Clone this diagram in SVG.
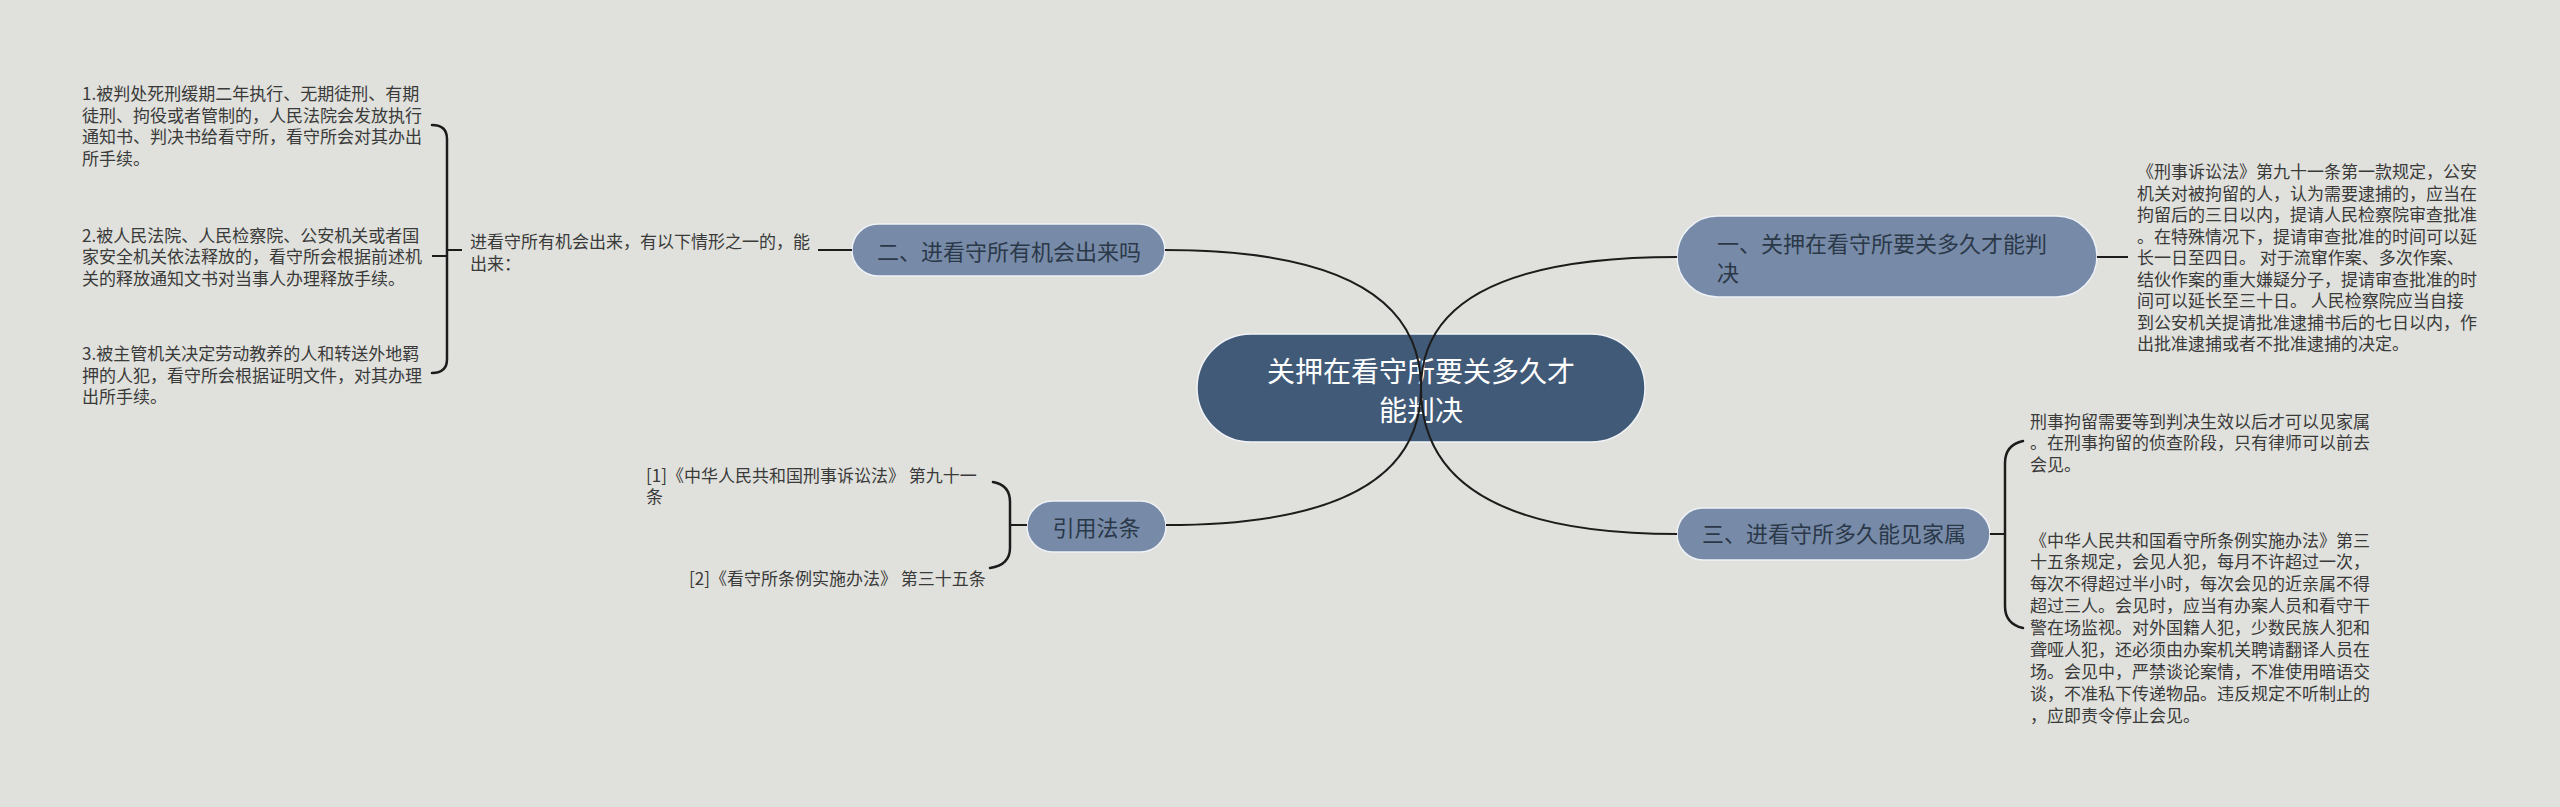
<svg xmlns="http://www.w3.org/2000/svg" width="2560" height="807" viewBox="0 0 2560 807">
<style>
.bg{fill:#e0e1dc}
.root{fill:#415a78;stroke:#f0f3f7;stroke-width:1.5}
.br{fill:#778ba8;stroke:#eef2f7;stroke-width:1.5}
.rt{font-family:"Noto Sans CJK SC","Liberation Sans",sans-serif;font-size:28px;fill:#ffffff}
.bt{font-family:"Noto Sans CJK SC","Liberation Sans",sans-serif;font-size:22px;fill:#2b3848}
.tx{font-family:"Noto Sans CJK SC","Liberation Sans",sans-serif;font-size:17px;fill:#3a3a3a}
.ln{fill:none;stroke:#1c1c1c;stroke-width:2}
.bk{fill:none;stroke:#1c1c1c;stroke-width:2.5;stroke-linecap:round}
</style>
<rect class="bg" x="0" y="0" width="2560" height="807"/>

<g id="node-root">
<rect class="root" x="1197" y="334" width="448" height="108" rx="54"/>
<text class="rt" text-anchor="middle"><tspan x="1421" y="382">关押在看守所要关多久才</tspan><tspan x="1421" y="420.5">能判决</tspan></text>
</g>

<g id="node-b2">
<rect class="br" x="852" y="224" width="313" height="52" rx="26"/>
<text class="bt" x="877" y="260">二、进看守所有机会出来吗</text>
</g>

<g id="node-b2-desc">
<text class="tx"><tspan x="470" y="248.2">进看守所有机会出来，有以下情形之一的，能</tspan><tspan x="470" y="269.9">出来：</tspan></text>
</g>

<g id="node-b2-c1">
<text class="tx"><tspan x="82" y="99.8">1.被判处死刑缓期二年执行、无期徒刑、有期</tspan><tspan x="82" y="121.5">徒刑、拘役或者管制的，人民法院会发放执行</tspan><tspan x="82" y="143.2">通知书、判决书给看守所，看守所会对其办出</tspan><tspan x="82" y="164.9">所手续。</tspan></text>
</g>
<g id="node-b2-c2">
<text class="tx"><tspan x="82" y="241.5">2.被人民法院、人民检察院、公安机关或者国</tspan><tspan x="82" y="263.2">家安全机关依法释放的，看守所会根据前述机</tspan><tspan x="82" y="284.9">关的释放通知文书对当事人办理释放手续。</tspan></text>
</g>
<g id="node-b2-c3">
<text class="tx"><tspan x="82" y="359.8">3.被主管机关决定劳动教养的人和转送外地羁</tspan><tspan x="82" y="381.5">押的人犯，看守所会根据证明文件，对其办理</tspan><tspan x="82" y="403.2">出所手续。</tspan></text>
</g>

<g id="node-ref">
<rect class="br" x="1027" y="501" width="139" height="51" rx="25.5"/>
<text class="bt" x="1096.5" y="535.5" text-anchor="middle">引用法条</text>
</g>
<g id="node-ref-1">
<text class="tx"><tspan x="646" y="481.5">[1]《中华人民共和国刑事诉讼法》 第九十一</tspan><tspan x="646" y="502.5">条</tspan></text>
</g>
<g id="node-ref-2">
<text class="tx" x="689" y="584.8">[2]《看守所条例实施办法》 第三十五条</text>
</g>

<g id="node-b1">
<rect class="br" x="1677" y="216" width="420" height="81" rx="40.5"/>
<text class="bt"><tspan x="1717" y="251.7">一、关押在看守所要关多久才能判</tspan><tspan x="1717" y="281">决</tspan></text>
</g>
<g id="node-b1-c1">
<text class="tx"><tspan x="2137" y="178.2">《刑事诉讼法》第九十一条第一款规定，公安</tspan><tspan x="2137" y="199.7">机关对被拘留的人，认为需要逮捕的，应当在</tspan><tspan x="2137" y="221.2">拘留后的三日以内，提请人民检察院审查批准</tspan><tspan x="2137" y="242.7">。在特殊情况下，提请审查批准的时间可以延</tspan><tspan x="2137" y="264.2">长一日至四日。 对于流窜作案、多次作案、</tspan><tspan x="2137" y="285.7">结伙作案的重大嫌疑分子，提请审查批准的时</tspan><tspan x="2137" y="307.2">间可以延长至三十日。 人民检察院应当自接</tspan><tspan x="2137" y="328.7">到公安机关提请批准逮捕书后的七日以内，作</tspan><tspan x="2137" y="350.2">出批准逮捕或者不批准逮捕的决定。</tspan></text>
</g>

<g id="node-b3">
<rect class="br" x="1677" y="508" width="313" height="52" rx="26"/>
<text class="bt" x="1702" y="542.4">三、进看守所多久能见家属</text>
</g>
<g id="node-b3-c1">
<text class="tx"><tspan x="2030" y="427.5">刑事拘留需要等到判决生效以后才可以见家属</tspan><tspan x="2030" y="449.2">。在刑事拘留的侦查阶段，只有律师可以前去</tspan><tspan x="2030" y="470.9">会见。</tspan></text>
</g>
<g id="node-b3-c2">
<text class="tx"><tspan x="2030" y="546.5">《中华人民共和国看守所条例实施办法》第三</tspan><tspan x="2030" y="568.4">十五条规定，会见人犯，每月不许超过一次，</tspan><tspan x="2030" y="590.3">每次不得超过半小时，每次会见的近亲属不得</tspan><tspan x="2030" y="612.2">超过三人。会见时，应当有办案人员和看守干</tspan><tspan x="2030" y="634.1">警在场监视。对外国籍人犯，少数民族人犯和</tspan><tspan x="2030" y="656">聋哑人犯，还必须由办案机关聘请翻译人员在</tspan><tspan x="2030" y="677.9">场。会见中，严禁谈论案情，不准使用暗语交</tspan><tspan x="2030" y="699.8">谈，不准私下传递物品。违反规定不听制止的</tspan><tspan x="2030" y="721.7">，应即责令停止会见。</tspan></text>
</g>

<g id="connectors">
<path class="ln" d="M1421,388 Q1421,250 1165,250"/>
<path class="ln" d="M1421,388 Q1421,525 1166,525"/>
<path class="ln" d="M1421,388 Q1421,257 1677,257"/>
<path class="ln" d="M1421,388 Q1421,534 1677,534"/>
<path class="ln" d="M818,250 H852"/>
<path class="bk" d="M432,125 Q447,125 447,139 L447,359 Q447,373 432,373"/>
<path class="ln" d="M432,256 H447 M447,250 H462"/>
<path class="bk" d="M993,482 Q1010,485 1010,502 L1010,548 Q1010,565 990,568"/>
<path class="ln" d="M1010,525 H1027"/>
<path class="ln" d="M2097,257 H2128"/>
<path class="bk" d="M2023,441 Q2005,445 2005,463 L2005,606 Q2005,624 2023,628"/>
<path class="ln" d="M1990,534 H2005"/>
</g>
</svg>
